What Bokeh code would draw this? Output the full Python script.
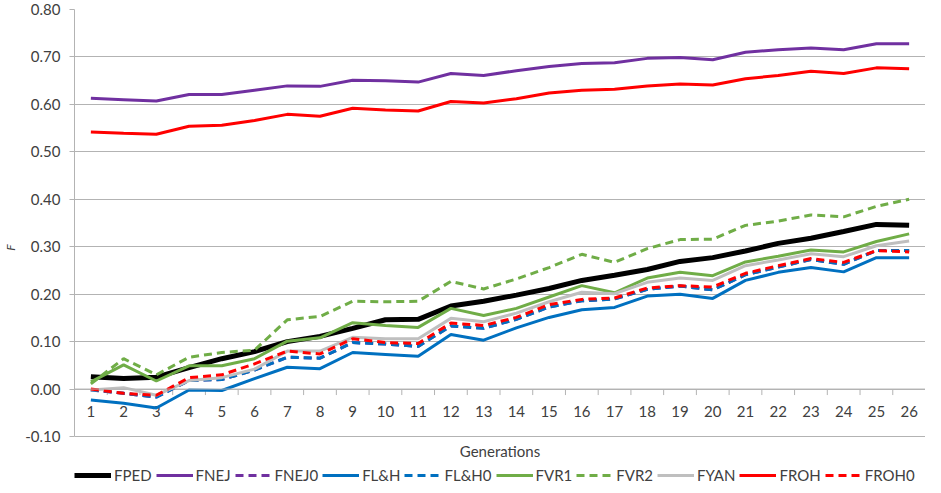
import math
from bokeh.plotting import figure
from bokeh.models import (Range1d, FixedTicker, NumeralTickFormatter,
                          Legend, LegendItem, Span, Label)
from bokeh.core.properties import value
from bokeh.embed import file_html
from bokeh.resources import INLINE

generations = list(range(1, 27))
gen_labels = [str(g) for g in generations]
y_ticks = [-0.10, 0.00, 0.10, 0.20, 0.30, 0.40, 0.50, 0.60, 0.70, 0.80]

FPED = [0.026, 0.022, 0.025, 0.045, 0.064, 0.079, 0.100, 0.111, 0.128, 0.146, 0.147, 0.175, 0.185,
        0.198, 0.212, 0.229, 0.240, 0.252, 0.269, 0.277, 0.291, 0.307, 0.318, 0.332, 0.347, 0.345]
FNEJ = [0.613, 0.610, 0.607, 0.621, 0.621, 0.630, 0.639, 0.638, 0.651, 0.650, 0.647, 0.665, 0.661,
        0.671, 0.680, 0.686, 0.688, 0.697, 0.699, 0.694, 0.710, 0.715, 0.719, 0.715, 0.728, 0.728]
FNEJ0 = [-0.002, -0.009, -0.017, 0.018, 0.020, 0.040, 0.067, 0.065, 0.098, 0.095, 0.090, 0.133, 0.128,
         0.147, 0.173, 0.186, 0.190, 0.210, 0.217, 0.209, 0.241, 0.257, 0.273, 0.263, 0.292, 0.292]
FLH = [-0.023, -0.030, -0.040, -0.002, -0.003, 0.022, 0.046, 0.043, 0.077, 0.073, 0.069, 0.115, 0.103,
       0.129, 0.151, 0.167, 0.172, 0.196, 0.200, 0.191, 0.229, 0.246, 0.256, 0.247, 0.277, 0.277]
FLH0 = [-0.002, -0.009, -0.017, 0.018, 0.020, 0.040, 0.067, 0.065, 0.098, 0.095, 0.090, 0.133, 0.128,
        0.147, 0.173, 0.186, 0.190, 0.210, 0.217, 0.209, 0.241, 0.257, 0.273, 0.263, 0.292, 0.292]
FVR1 = [0.015, 0.051, 0.017, 0.049, 0.049, 0.064, 0.101, 0.108, 0.140, 0.134, 0.130, 0.170, 0.155,
        0.170, 0.194, 0.218, 0.203, 0.234, 0.246, 0.239, 0.268, 0.280, 0.293, 0.289, 0.311, 0.327]
FVR2 = [0.011, 0.064, 0.030, 0.067, 0.077, 0.082, 0.146, 0.153, 0.185, 0.184, 0.185, 0.227, 0.211,
        0.232, 0.256, 0.284, 0.267, 0.296, 0.315, 0.316, 0.345, 0.354, 0.367, 0.363, 0.385, 0.400]
FYAN = [-0.002, 0.003, -0.013, 0.018, 0.024, 0.042, 0.080, 0.080, 0.109, 0.106, 0.106, 0.149, 0.142,
        0.160, 0.184, 0.204, 0.201, 0.225, 0.234, 0.229, 0.260, 0.272, 0.285, 0.279, 0.302, 0.312]
FROH = [0.542, 0.539, 0.537, 0.554, 0.556, 0.566, 0.579, 0.575, 0.592, 0.588, 0.586, 0.606, 0.603,
        0.612, 0.624, 0.630, 0.632, 0.639, 0.643, 0.641, 0.654, 0.661, 0.670, 0.665, 0.677, 0.675]
FROH0 = [0.000, -0.009, -0.013, 0.024, 0.030, 0.053, 0.080, 0.074, 0.106, 0.098, 0.096, 0.139, 0.134,
         0.151, 0.178, 0.189, 0.192, 0.213, 0.218, 0.215, 0.244, 0.260, 0.275, 0.267, 0.292, 0.289]

series = [
    ("FPED", FPED, "#000000", 5, "solid"),
    ("FNEJ", FNEJ, "#7030A0", 3, "solid"),
    ("FNEJ0", FNEJ0, "#7030A0", 3, "8 5"),
    ("FL&H", FLH, "#0070C0", 3, "solid"),
    ("FL&H0", FLH0, "#0070C0", 3, "8 5"),
    ("FVR1", FVR1, "#70AD47", 3, "solid"),
    ("FVR2", FVR2, "#70AD47", 3, "8 5"),
    ("FYAN", FYAN, "#BFBFBF", 3, "solid"),
    ("FROH", FROH, "#FF0000", 3, "solid"),
    ("FROH0", FROH0, "#FF0000", 3, "8 5"),
]

FONT = "Lato"
TXT = "#404040"
GRID = "#B3B3B3"

# layout (pixels): plot area of the value axis, and a band below it for title + legend
W, H = 925, 485
TOP = 9            # top of value area
AXIS_BOTTOM = 436  # pixel row of -0.10
Y_MIN, Y_MAX = y_ticks[0], y_ticks[-1]
px_per_unit = (AXIS_BOTTOM - TOP) / (Y_MAX - Y_MIN)
y_low = Y_MIN - (H - AXIS_BOTTOM) / px_per_unit

p = figure(width=W, height=H, output_backend="svg", toolbar_location=None,
           x_range=Range1d(0.5, 26.5), y_range=Range1d(y_low, Y_MAX),
           x_axis_location=None)
p.min_border_left = 59
p.min_border_right = 0
p.min_border_top = TOP
p.min_border_bottom = 0
p.outline_line_color = None
p.background_fill_color = "white"
p.border_fill_color = "white"

# y axis
yax = p.yaxis[0]
yax.ticker = FixedTicker(ticks=y_ticks)
yax.bounds = (Y_MIN, Y_MAX)
yax.formatter = NumeralTickFormatter(format="0.00")
yax.axis_line_color = GRID
yax.major_tick_line_color = GRID
yax.major_tick_out = 5
yax.major_tick_in = 0
yax.minor_tick_line_color = None
yax.major_label_standoff = 9
yax.major_label_text_font = FONT
yax.major_label_text_font_size = "15px"
yax.major_label_text_color = TXT
yax.axis_label = "F"
yax.axis_label_text_font = FONT
yax.axis_label_text_font_style = "italic"
yax.axis_label_text_font_size = "12px"
yax.axis_label_text_color = TXT
yax.axis_label_standoff = 4

p.ygrid.ticker = FixedTicker(ticks=y_ticks)
p.ygrid.grid_line_color = GRID
p.ygrid.grid_line_width = 1
p.xgrid.visible = False

# horizontal category axis crossing at zero
p.add_layout(Span(location=0, dimension="width", line_color=GRID, line_width=1))
bounds = [g - 0.5 for g in generations] + [generations[-1] + 0.5]
p.ray(x=bounds, y=[0] * len(bounds), length=6, length_units="screen",
      angle=-math.pi / 2, line_color=GRID, line_width=1)
p.text(x=generations, y=[0] * len(generations), text=gen_labels, y_offset=17,
       text_align="center", text_baseline="top", text_font=value(FONT),
       text_font_size="15px", text_color=TXT)

# axis title
p.add_layout(Label(x=(generations[0] + generations[-1]) / 2, y=H - 450, y_units="screen",
                   text="Generations", text_align="center", text_baseline="middle",
                   text_font=FONT, text_font_size="15px", text_color=TXT))

items = []
for name, vals, color, w, dash in series:
    r = p.line(generations, vals, line_color=color, line_width=w, line_dash=dash)
    items.append(LegendItem(label=name, renderers=[r]))

legend = Legend(items=items, orientation="horizontal", location=(0, 1),
                glyph_width=37, glyph_height=16, label_standoff=3, spacing=4,
                padding=2, margin=0, border_line_color=None,
                background_fill_alpha=0, label_text_font=FONT,
                label_text_font_size="15px", label_text_color=TXT)
p.add_layout(legend)

open("out.html", "w").write(file_html(p, INLINE))
